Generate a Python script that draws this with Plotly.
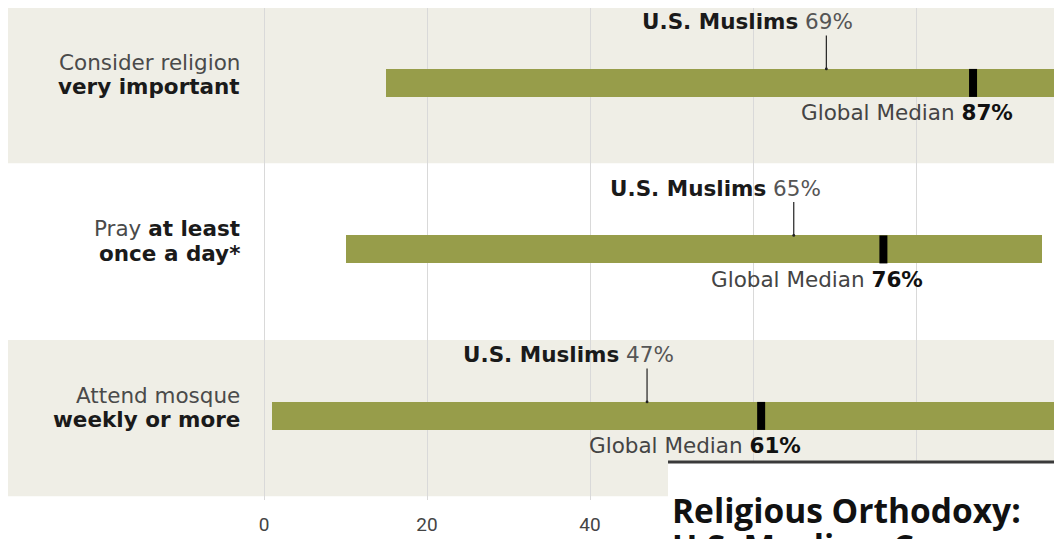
import plotly.graph_objects as go

# Data
label_top = ["Consider religion", "Pray <b><span style='color:#1a1a1a'>at least</span></b>", "Attend mosque"]
label_bottom = ["very important", "once a day*", "weekly or more"]
range_low = [15, 10, 1]
range_high = [97.5, 95.5, 99]
us_muslims = [69, 65, 47]
global_median = [87, 76, 61]
tick_vals = [0, 20, 40, 60, 80, 100]
tick_text = ["0", "20", "40", "", "", ""]  # 60+ hidden under the overlapping title box

BAR = "#979d4a"
BAND = "#efeee6"
GRID = "#d9d9d9"
FONT = "DejaVu Sans"
FS = 21.5

ypos = list(range(len(label_top)))

fig = go.Figure()
fig.add_trace(go.Bar(
    y=ypos, x=[h - l for l, h in zip(range_low, range_high)], base=range_low,
    orientation="h", width=0.168, marker=dict(color=BAR, line=dict(width=0)),
    hoverinfo="skip",
))
fig.add_trace(go.Scatter(
    y=ypos, x=global_median, mode="markers",
    marker=dict(symbol="line-ns", size=20, line=dict(width=8, color="#000000")),
    hoverinfo="skip",
))

# shaded row bands
for i in ypos:
    if i % 2 == 0:
        fig.add_shape(type="rect", xref="x", yref="y", x0=-40, x1=110,
                      y0=i - 0.456, y1=i + 0.483, fillcolor=BAND, line_width=0, layer="below")

for i in ypos:
    fig.add_annotation(x=0, y=i, xref="x", yref="y", text=label_top[i], showarrow=False,
                       xanchor="right", xshift=-22, yshift=20.5,
                       font=dict(family=FONT, size=FS, color="#4a4a4a"))
    fig.add_annotation(x=0, y=i, xref="x", yref="y", text=f"<b>{label_bottom[i]}</b>", showarrow=False,
                       xanchor="right", xshift=-22, yshift=-4,
                       font=dict(family=FONT, size=FS, color="#1a1a1a"))
    # U.S. Muslims pointer
    fig.add_annotation(x=us_muslims[i], y=i, xref="x", yref="y", text="", showarrow=True,
                       arrowhead=6, arrowsize=0.6, arrowwidth=1.2, arrowcolor="#222222",
                       ax=0, ay=-35, yshift=14)
    fig.add_annotation(x=us_muslims[i], y=i, xref="x", yref="y",
                       text=f"<b><span style='color:#1a1a1a'>U.S. Muslims</span></b> {us_muslims[i]}%",
                       showarrow=False, xanchor="right", xshift=29, yshift=61,
                       font=dict(family=FONT, size=FS, color="#555555"))
    fig.add_annotation(x=global_median[i], y=i, xref="x", yref="y",
                       text=f"Global Median <b><span style='color:#111111'>{global_median[i]}%</span></b>",
                       showarrow=False, xanchor="right", xshift=42, yshift=-30,
                       font=dict(family=FONT, size=FS, color="#444444"))

# overlapping title box in the bottom right corner
fig.add_shape(type="rect", xref="paper", yref="paper", x0=0.6262, x1=1.02, y0=-0.2, y1=0.0772,
              fillcolor="white", line_width=0, layer="above")
fig.add_shape(type="line", xref="paper", yref="paper", x0=0.6262, x1=1.02, y0=0.0772, y1=0.0772,
              line=dict(color="#3a3a3a", width=3), layer="above")
fig.add_annotation(xref="paper", yref="paper", x=0.628, y=-0.0203, yanchor="middle", xanchor="left",
                   text="<b>Religious Orthodoxy:</b>", showarrow=False,
                   font=dict(family="Open Sans", size=33.5, color="#111111"))
fig.add_annotation(xref="paper", yref="paper", x=0.628, y=-0.094, yanchor="middle", xanchor="left",
                   text="<b>U.S. Muslims Compared with Muslims Worldwide</b>", showarrow=False,
                   font=dict(family="Open Sans", size=33.5, color="#111111"))

fig.update_layout(
    width=1054, height=531,
    margin=dict(l=0, r=0, t=0, b=39),
    paper_bgcolor="white", plot_bgcolor="white",
    showlegend=False,
    bargap=0,
)
fig.update_xaxes(range=[-256 / 8.15, (1054 - 256) / 8.15], tickvals=tick_vals, ticktext=tick_text,
                 showgrid=True, gridcolor=GRID, gridwidth=1, zeroline=False,
                 showline=False, ticks="", ticklabelstandoff=11,
                 tickfont=dict(family="Liberation Sans Narrow, Roboto, sans-serif", size=19, color="#444444"))
fig.update_yaxes(range=[2.505, -0.45], visible=False, showgrid=False, zeroline=False)

fig.write_html("out.html")
